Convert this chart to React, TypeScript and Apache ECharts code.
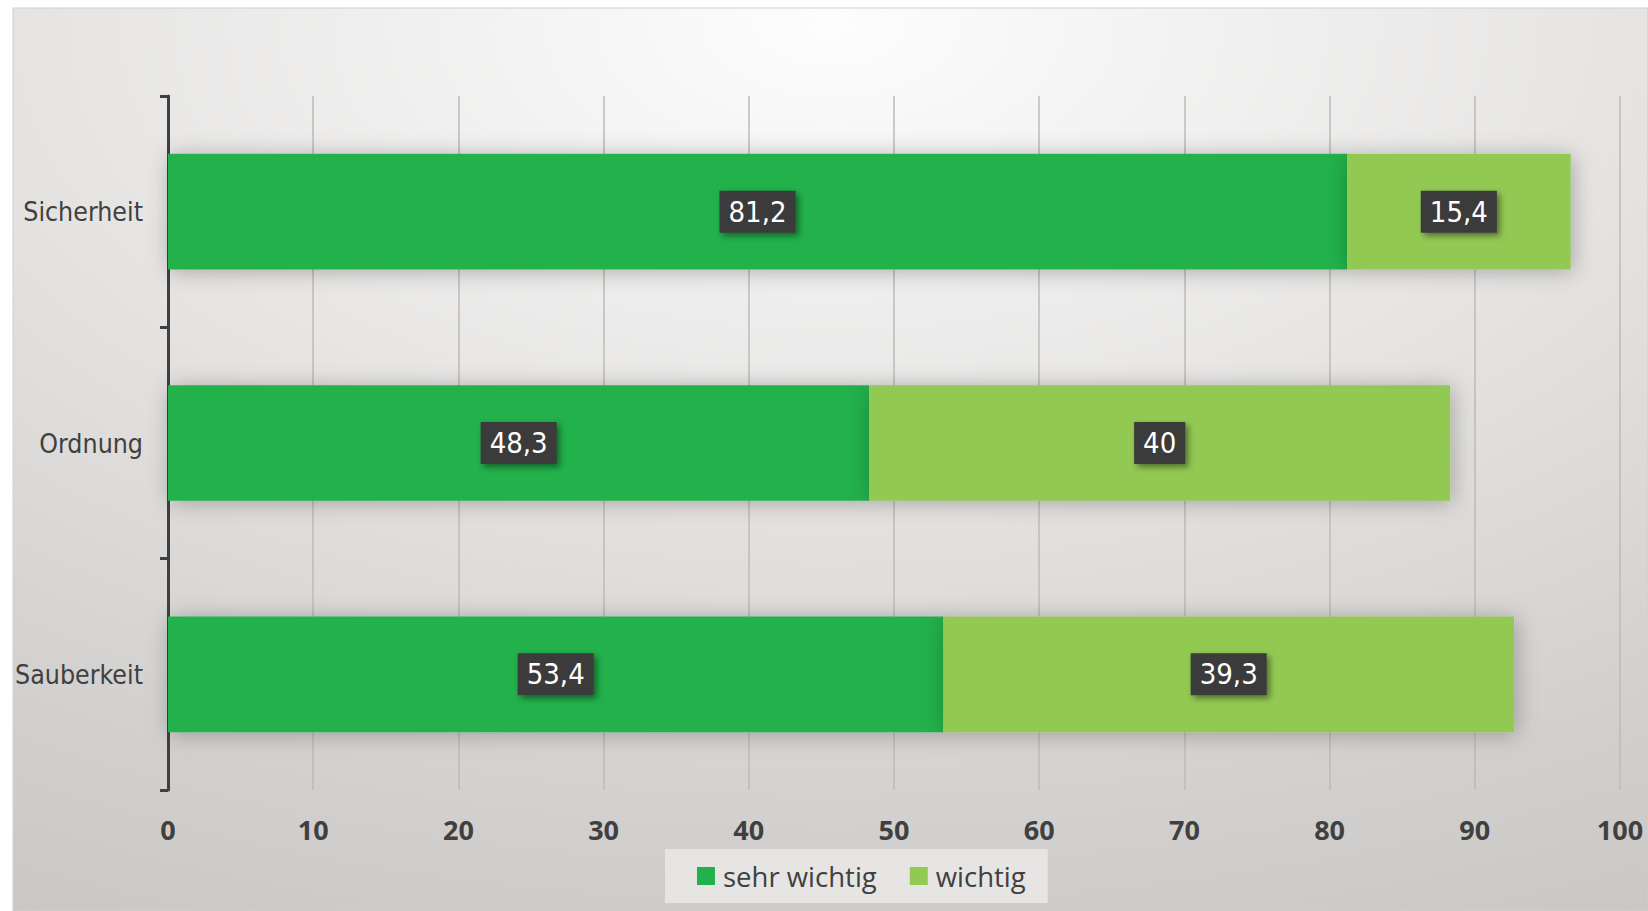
import React, { useEffect, useRef } from "react";
import * as echarts from "echarts";

const categories = ["Sicherheit", "Ordnung", "Sauberkeit"];
const sehrWichtig = [81.2, 48.3, 53.4];
const wichtig = [15.4, 40, 39.3];
const seriesNames = ["sehr wichtig", "wichtig"];
const xTicks = { min: 0, max: 100, interval: 10 };

const DARK = "#22b14c";
const LIGHT = "#92c953";
const TEXT = "#404040";
const NARROW = "'DejaVu Sans Condensed', 'Liberation Sans Narrow', 'Roboto', sans-serif";

const fmt = (v: number) => String(v).replace(".", ",");

export default function App() {
  const ref = useRef<HTMLDivElement>(null);
  useEffect(() => {
    if (!ref.current) return;
    const chart = echarts.init(ref.current, null, { renderer: "svg" });
    const labelStyle = {
      show: true,
      position: "inside",
      formatter: (p: any) => fmt(p.value),
      color: "#ffffff",
      fontFamily: NARROW,
      fontSize: 29,
      backgroundColor: "#3b3a3a",
      padding: [7, 9, 6, 9],
      shadowColor: "rgba(0,0,0,0.45)",
      shadowBlur: 6,
      shadowOffsetX: 3,
      shadowOffsetY: 3,
    };
    const barShadow = {
      shadowColor: "rgba(0,0,0,0.28)",
      shadowBlur: 22,
      shadowOffsetX: 2,
      shadowOffsetY: 2,
    };
    chart.setOption({
      animation: false,
      graphic: [
        {
          type: "rect",
          z: -10,
          silent: true,
          shape: { x: 13, y: 8, width: 1648 - 13, height: 911 - 8 },
          style: {
            fill: {
              type: "radial",
              x: 0.5,
              y: 0.02,
              r: 1.25,
              colorStops: [
                { offset: 0, color: "#fdfdfd" },
                { offset: 0.35, color: "#e8e7e6" },
                { offset: 0.7, color: "#d3d1cf" },
                { offset: 1, color: "#c4c2c0" },
              ],
            },
            stroke: "#cfcfcf",
            lineWidth: 1,
          },
        },
      ],
      grid: { left: 168, right: 28, top: 96, bottom: 121, containLabel: false },
      legend: {
        data: seriesNames,
        left: 665,
        top: 849,
        padding: [13, 22, 13, 32],
        backgroundColor: "#e6e5e4",
        itemWidth: 18,
        itemHeight: 18,
        itemGap: 33,
        icon: "rect",
        textStyle: {
          color: TEXT,
          fontSize: 27.5,
          fontFamily: "'Open Sans', sans-serif",
          padding: [0, 0, 0, 3],
        },
      },
      xAxis: {
        type: "value",
        min: xTicks.min,
        max: xTicks.max,
        interval: xTicks.interval,
        axisLine: { show: false },
        axisTick: { show: false },
        splitLine: { show: true, lineStyle: { color: "#bdbbb9", width: 1.5 } },
        axisLabel: {
          color: TEXT,
          fontSize: 27,
          fontWeight: "bold",
          fontFamily: "'Open Sans', sans-serif",
          margin: 26,
        },
      },
      yAxis: {
        type: "category",
        data: categories,
        inverse: true,
        axisLine: { show: true, lineStyle: { color: "#404040", width: 3 } },
        axisTick: { show: true, length: 8, lineStyle: { color: "#404040", width: 3 } },
        axisLabel: {
          color: TEXT,
          fontSize: 26.5,
          fontFamily: NARROW,
          margin: 25,
        },
      },
      series: [
        {
          name: seriesNames[0],
          type: "bar",
          stack: "total",
          data: sehrWichtig,
          barCategoryGap: "50%",
          itemStyle: { color: DARK, ...barShadow },
          label: labelStyle,
        },
        {
          name: seriesNames[1],
          type: "bar",
          stack: "total",
          data: wichtig,
          barCategoryGap: "50%",
          itemStyle: { color: LIGHT, ...barShadow },
          label: labelStyle,
        },
      ],
    });
    return () => chart.dispose();
  }, []);
  return (
    <div
      ref={ref}
      style={{ position: "fixed", left: 0, top: 0, width: 1648, height: 911, background: "#ffffff" }}
    />
  );
}
